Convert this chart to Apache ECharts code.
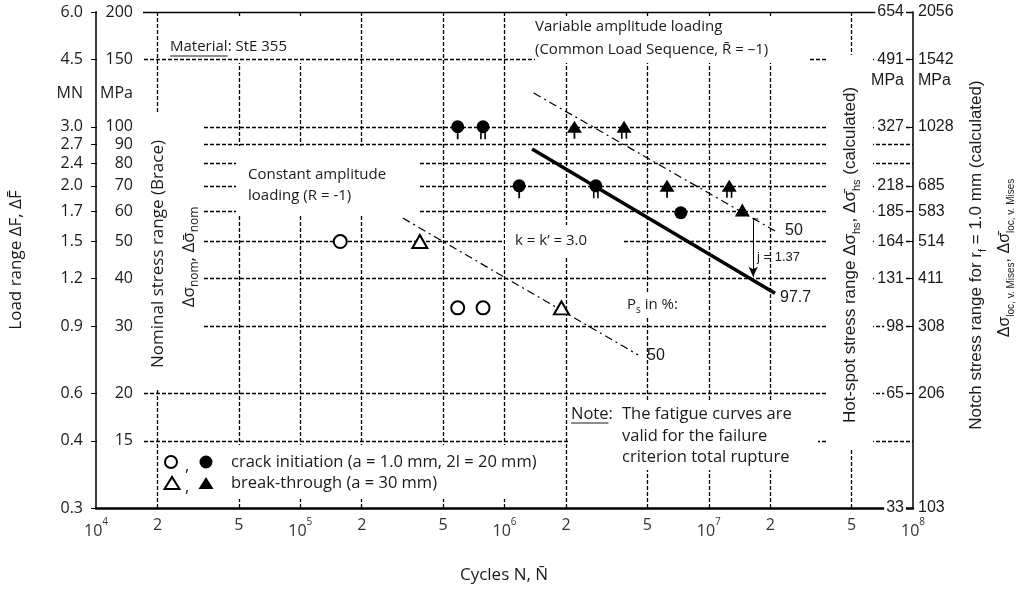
<!DOCTYPE html>
<html>
<head>
<meta charset="utf-8">
<script src="https://cdn.jsdelivr.net/npm/echarts@6/dist/echarts.min.js"></script>
<style>
  html, body { margin: 0; padding: 0; background: #fff; }
  #chart { width: 1017px; height: 589px; }
</style>
</head>
<body>
<div id="chart"></div>
<script>
// axis ticks (MPa on the nominal scale) and the labels of the four scales
const stressTicks = [200, 150, 100, 90, 80, 70, 60, 50, 40, 30, 20, 15, 10];
const loadLabels = ['6.0', '4.5', '3.0', '2.7', '2.4', '2.0', '1.7', '1.5', '1.2', '0.9', '0.6', '0.4', '0.3'];
const nomLabels = ['200', '150', '100', '90', '80', '70', '60', '50', '40', '30', '20', '15', ''];
const hotSpotLabels = ['654', '491', '327', '', '', '218', '185', '164', '131', '98', '65', '', '33'];
const notchLabels = ['2056', '1542', '1028', '', '', '685', '583', '514', '411', '308', '206', '', '103'];
const cycleTicks = [1e4, 2e4, 5e4, 1e5, 2e5, 5e5, 1e6, 2e6, 5e6, 1e7, 2e7, 5e7, 1e8];
const gridCycles = [2e4, 5e4, 1e5, 2e5, 5e5, 1e6, 2e6, 5e6, 1e7, 2e7, 5e7];
const gridStress = [150, 100, 90, 80, 70, 60, 50, 40, 30, 20, 15];

// test results
const constCrackN = [1.57e5, 5.9e5, 7.85e5];
const constCrackS = [50, 33.5, 33.5];
const constBreakN = [3.85e5, 1.9e6];
const constBreakS = [50, 33.5];
const varCrackN = [5.9e5, 7.85e5, 1.18e6, 2.8e6, 7.3e6];
const varCrackS = [100, 100, 70, 70, 59.5];
const varCrackStems = [1, 2, 1, 2, 0];
const varBreakN = [2.2e6, 3.85e6, 6.25e6, 1.26e7, 1.46e7];
const varBreakS = [100, 100, 70, 70, 60.5];
const varBreakStems = [1, 2, 1, 2, 0];

// fatigue curves
const curve977N = [1.365e6, 2.11e7];
const curve977S = [87.4, 36.6];
const curve50VarN = [1.39e6, 2.16e7];
const curve50VarS = [122.6, 52.9];
const curve50ConstN = [3.18e5, 4.51e6];
const curve50ConstS = [57.6, 25.2];
const jArrowN = [1.65e7, 1.65e7];
const jArrowS = [57.3, 40.4];
const jCapN = [1.75e7, 1.65e7];
const jCapS = [57.3, 57.3];

const zip = (a, b) => a.map((v, i) => [v, b[i]]);

const circleStem = {
  1: 'path://M0,6.5A6.5,6.5,0,1,1,13,6.5A6.5,6.5,0,1,1,0,6.5ZM5.6,11L7.4,11L7.4,19L5.6,19Z',
  2: 'path://M0,6.5A6.5,6.5,0,1,1,13,6.5A6.5,6.5,0,1,1,0,6.5ZM3.6,11L5.2,11L5.2,19L3.6,19ZM7.8,11L9.4,11L9.4,19L7.8,19Z'
};
const triStem = {
  1: 'path://M7.5,0L15,12L0,12ZM6.6,12L8.4,12L8.4,18L6.6,18Z',
  2: 'path://M7.5,0L15,12L0,12ZM4.4,12L6,12L6,18L4.4,18ZM9,12L10.6,12L10.6,18L9,18Z'
};

function circleItem(n, s, stems) {
  if (!stems) return { value: [n, s], symbol: 'circle', symbolSize: 13 };
  return { value: [n, s], symbol: circleStem[stems], symbolSize: [13, 19], symbolOffset: [0, 3] };
}
function triItem(n, s, stems) {
  if (!stems) return { value: [n, s], symbol: 'triangle', symbolSize: [15, 13] };
  return { value: [n, s], symbol: triStem[stems], symbolSize: [15, 18], symbolOffset: [0, 3] };
}

function pick(labels, unit, unitValue) {
  return function (v) {
    if (Math.abs(v - unitValue) < 0.5) return unit;
    const i = stressTicks.findIndex(t => Math.abs(t - v) < 0.01 * t);
    return i < 0 ? '' : labels[i];
  };
}
const withLabel = labels => stressTicks.filter((t, i) => labels[i] !== '');

const OPEN = '"Open Sans", "Noto Sans", sans-serif';
const ARIAL = '"Liberation Sans", Arial, sans-serif';
const NARROW = '"Liberation Sans Narrow", "Open Sans", sans-serif';

const ctx = document.createElement('canvas').getContext('2d');
function textWidth(t, font) { ctx.font = font; return ctx.measureText(t).width; }

const logY = { type: 'log', logBase: 10, min: 10, max: 200, splitLine: { show: false }, z: 10 };

// white boxes behind the texts, [x, y, w, h, z]
const masks = [
  [97, 9, 46, 497, 4], [143, 113, 60, 277, 4], [165, 17, 150, 46, 2],
  [535, 17, 275, 46, 4], [236, 146, 182, 68, 4], [505, 225, 118, 33, 4],
  [623, 293, 72, 25, 4], [569, 400, 249, 70, 4], [160, 445, 385, 54, 4],
  [828, 55, 45, 395, 4]
];

const annoFont = '15px ' + OPEN;
const noteFont = '16.5px ' + NARROW;
const graphics = masks.map(m => ({
  type: 'rect', z: m[4], silent: true,
  shape: { x: m[0], y: m[1], width: m[2], height: m[3] },
  style: { fill: '#fff' }
}));

function txt(x, y, text, font, align) {
  return {
    type: 'text', x: x, y: y, z: 20, silent: true,
    style: { text: text, font: font, fill: '#1a1a1a', verticalAlign: 'middle', align: align || 'left' }
  };
}
function vtxt(x, y, text, rich) {
  return {
    type: 'text', x: x, y: y, z: 20, rotation: Math.PI / 2, silent: true,
    style: { text: text, fill: '#1a1a1a', align: 'center', verticalAlign: 'middle', rich: rich }
  };
}
function uline(x, y, w) {
  return { type: 'line', z: 20, silent: true, shape: { x1: x, y1: y, x2: x + w, y2: y }, style: { stroke: '#1a1a1a', lineWidth: 1 } };
}

graphics.push(
  txt(170, 47, 'Material: StE 355', annoFont),
  uline(170, 56, textWidth('Material', annoFont)),
  txt(535, 27, 'Variable amplitude loading', annoFont),
  txt(535, 50, '(Common Load Sequence, R\u0304 = \u20131)', annoFont),
  txt(248, 175, 'Constant amplitude', annoFont),
  txt(248, 196, 'loading (R = -1)', annoFont),
  txt(515, 241, 'k = k\u2019 = 3.0', annoFont),
  { type: 'text', x: 627, y: 305, z: 20, silent: true,
    style: { text: '{a|P}{b|s}{a| in %:}', verticalAlign: 'middle', fill: '#1a1a1a',
      rich: { a: { font: annoFont, lineHeight: 20 }, b: { font: '10px ' + OPEN, verticalAlign: 'bottom' } } } },
  txt(571, 414, 'Note:', noteFont),
  uline(571, 423, textWidth('Note', noteFont)),
  txt(622, 414, 'The fatigue curves are', noteFont),
  txt(622, 436, 'valid for the failure', noteFont),
  txt(622, 457, 'criterion total rupture', noteFont),
  txt(231, 462, 'crack initiation (a = 1.0 mm, 2l = 20 mm)', noteFont),
  txt(231, 483, 'break-through (a = 30 mm)', noteFont),
  txt(185, 466, ',', noteFont),
  txt(185, 487, ',', noteFont),
  { type: 'circle', z: 20, shape: { cx: 171, cy: 462, r: 6 }, style: { fill: '#fff', stroke: '#000', lineWidth: 2 } },
  { type: 'circle', z: 20, shape: { cx: 206, cy: 462, r: 6.5 }, style: { fill: '#000' } },
  { type: 'polygon', z: 20, shape: { points: [[164.5, 489], [179.5, 489], [172, 477]] }, style: { fill: '#fff', stroke: '#000', lineWidth: 2 } },
  { type: 'polygon', z: 20, shape: { points: [[198.5, 489], [213.5, 489], [206, 477]] }, style: { fill: '#000' } },
  txt(785, 231, '50', '16px ' + ARIAL),
  txt(780, 298, '97.7', '16px ' + ARIAL),
  txt(647, 356, '50', '16px ' + ARIAL),
  txt(757, 257, 'j = 1.37', '13px ' + ARIAL),
  txt(504, 575, 'Cycles N, N\u0304', '17px ' + NARROW, 'center'),
  vtxt(16, 260, '{a|Load range \u0394F, \u0394F\u0304}', { a: { font: '17px ' + OPEN } }),
  vtxt(158, 254, '{a|Nominal stress range (Brace)}', { a: { font: '17px ' + OPEN } }),
  vtxt(189, 257, '{a|\u0394\u03c3}{b|nom}{a|, \u0394\u03c3\u0304}{b|nom}',
    { a: { font: '17px ' + OPEN, lineHeight: 24 }, b: { font: '12px ' + OPEN, verticalAlign: 'bottom' } }),
  vtxt(850, 255, '{a|Hot-spot stress range \u0394\u03c3}{b|hs}{a|, \u0394\u03c3\u0304}{b|hs}{a| (calculated)}',
    { a: { font: '17px ' + ARIAL, lineHeight: 24 }, b: { font: '11px ' + ARIAL, verticalAlign: 'bottom' } }),
  vtxt(976, 255, '{a|Notch stress range for r}{b|f}{a| = 1.0 mm (calculated)}',
    { a: { font: '17px ' + ARIAL, lineHeight: 24 }, b: { font: '11px ' + ARIAL, verticalAlign: 'bottom' } }),
  vtxt(1005, 258, '{a|\u0394\u03c3}{b|loc, v. Mises}{a|, \u0394\u03c3\u0304}{b|loc, v. Mises}',
    { a: { font: '16px ' + ARIAL, lineHeight: 22 }, b: { font: '10px ' + ARIAL, verticalAlign: 'bottom' } })
);

const gridV = {
  z: 1, silent: true, symbol: 'none', label: { show: false },
  lineStyle: { color: '#000', type: [4, 2], width: 1.3, opacity: 1 },
  emphasis: { disabled: true },
  data: gridCycles.map(v => ({ xAxis: v }))
};
const gridH = {
  z: 3, silent: true, symbol: 'none', label: { show: false },
  lineStyle: { color: '#000', type: [4, 2], width: 1.3, opacity: 1 },
  emphasis: { disabled: true },
  data: gridStress.map(v => ({ yAxis: v })).concat([{ yAxis: 200, lineStyle: { type: 'solid', color: '#000', width: 1.3 } }])
};

const chart = echarts.init(document.getElementById('chart'));
chart.setOption({
  animation: false,
  backgroundColor: '#fff',
  grid: { left: 96, right: 104, top: 12, bottom: 81, containLabel: false, outerBoundsMode: 'none' },
  xAxis: {
    type: 'log', logBase: 10, min: 1e4, max: 1e8, z: 10,
    splitLine: { show: false },
    axisLine: { show: true, onZero: false, lineStyle: { color: '#000', width: 2.5 } },
    axisTick: { show: false },
    axisLabel: {
      customValues: cycleTicks, margin: 9, color: '#333',
      formatter: function (v) {
        const e = Math.round(Math.log10(v));
        if (Math.abs(v - Math.pow(10, e)) < 1e-6 * v) return '{p|10}{s|' + e + '}';
        return '{d|' + Math.round(v / Math.pow(10, Math.floor(Math.log10(v) + 1e-9))) + '}';
      },
      rich: {
        p: { fontFamily: NARROW, fontSize: 16, lineHeight: 22, verticalAlign: 'bottom', color: '#333' },
        s: { fontFamily: NARROW, fontSize: 10, verticalAlign: 'top', color: '#333' },
        d: { fontFamily: NARROW, fontSize: 16, lineHeight: 16, color: '#333' }
      }
    }
  },
  yAxis: [
    Object.assign({}, logY, {
      position: 'left',
      axisLine: { show: true, lineStyle: { color: '#000', width: 1.5 } },
      axisTick: { show: true, length: 5, customValues: stressTicks, lineStyle: { color: '#000' } },
      axisLabel: { customValues: stressTicks.concat([122]), formatter: pick(loadLabels, 'MN', 122),
        margin: 13, fontFamily: OPEN, fontSize: 16, color: '#1a1a1a' }
    }),
    Object.assign({}, logY, {
      position: 'left',
      axisLine: { show: false }, axisTick: { show: false },
      axisLabel: { inside: true, align: 'right', margin: 37, customValues: withLabel(nomLabels).concat([122]),
        formatter: pick(nomLabels, 'MPa', 122), fontFamily: OPEN, fontSize: 16, color: '#1a1a1a' }
    }),
    Object.assign({}, logY, {
      position: 'right', z: 11,
      axisLine: { show: true, lineStyle: { color: '#000', width: 1.5 } },
      axisTick: { show: true, inside: true, length: 6, customValues: withLabel(hotSpotLabels), lineStyle: { color: '#000' } },
      axisLabel: { inside: true, margin: 7, backgroundColor: '#fff', padding: [0, 2],
        customValues: withLabel(hotSpotLabels).concat([132]), formatter: pick(hotSpotLabels, 'MPa', 132),
        fontFamily: ARIAL, fontSize: 16, color: '#1a1a1a' }
    }),
    Object.assign({}, logY, {
      position: 'right',
      axisLine: { show: false }, axisTick: { show: false },
      axisLabel: { margin: 5, customValues: withLabel(notchLabels).concat([132]), formatter: pick(notchLabels, 'MPa', 132),
        fontFamily: ARIAL, fontSize: 16, color: '#1a1a1a' }
    })
  ],
  graphic: { elements: graphics },
  series: [
    { type: 'line', z: 6, data: zip(curve977N, curve977S), symbol: 'none', lineStyle: { color: '#000', width: 3.5 } },
    { type: 'line', z: 6, data: zip(curve50VarN, curve50VarS), symbol: 'none', lineStyle: { color: '#000', width: 1.2, type: [8, 4, 2, 4] },
      markLine: gridH },
    { type: 'line', z: 6, data: zip(curve50ConstN, curve50ConstS), symbol: 'none', lineStyle: { color: '#000', width: 1.2, type: [8, 4, 2, 4] },
      markLine: gridV },
    {
      type: 'line', z: 6, data: zip(jCapN, jCapS), symbol: 'none', lineStyle: { color: '#000', width: 1 },
      markLine: {
        z: 6, silent: true, symbol: ['none', 'arrow'], symbolSize: [7, 10], label: { show: false },
        lineStyle: { color: '#000', width: 1, type: 'solid', opacity: 1 },
        data: [[{ coord: [jArrowN[0], jArrowS[0]] }, { coord: [jArrowN[1], jArrowS[1]] }]]
      }
    },
    {
      type: 'scatter', z: 7, data: zip(constCrackN, constCrackS), symbol: 'circle', symbolSize: 13,
      itemStyle: { color: '#fff', borderColor: '#000', borderWidth: 2, opacity: 1 }
    },
    {
      type: 'scatter', z: 7, data: zip(constBreakN, constBreakS), symbol: 'triangle', symbolSize: [15, 13],
      itemStyle: { color: '#fff', borderColor: '#000', borderWidth: 2, opacity: 1 }
    },
    {
      type: 'scatter', z: 7, data: varCrackN.map((n, i) => circleItem(n, varCrackS[i], varCrackStems[i])),
      itemStyle: { color: '#000', opacity: 1 }
    },
    {
      type: 'scatter', z: 7, data: varBreakN.map((n, i) => triItem(n, varBreakS[i], varBreakStems[i])),
      itemStyle: { color: '#000', opacity: 1 }
    }
  ]
});
</script>
</body>
</html>
